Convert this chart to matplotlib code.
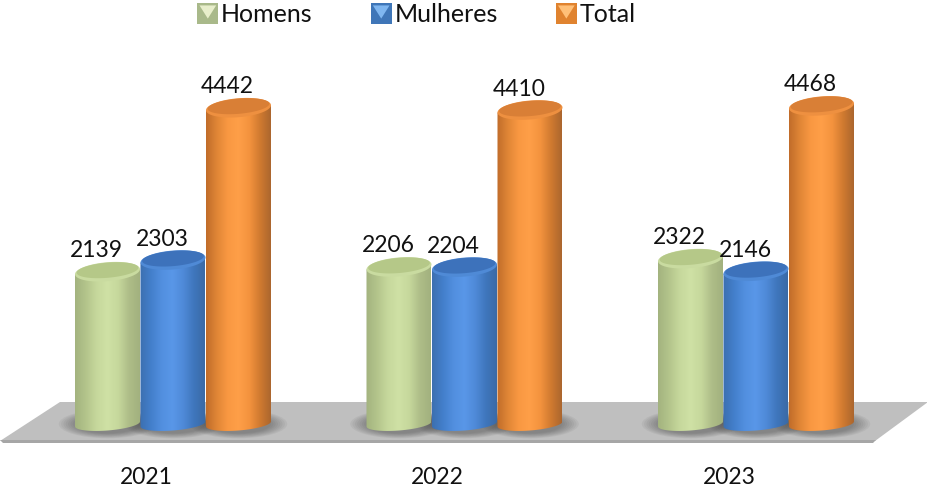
import numpy as np
import matplotlib
matplotlib.use("Agg")
import matplotlib.pyplot as plt
from matplotlib.colors import LinearSegmentedColormap
from matplotlib.patches import Ellipse, Polygon, Rectangle, PathPatch, Patch
from matplotlib.path import Path
from matplotlib.legend_handler import HandlerBase

years = ["2021", "2022", "2023"]
series_names = ["Homens", "Mulheres", "Total"]
homens = [2139, 2206, 2322]
mulheres = [2303, 2204, 2146]
total = [4442, 4410, 4468]
series_values = [homens, mulheres, total]

W, H = 928, 491
X0, DX = 173.0, 291.5      # pixel centre of first group, group spacing
BASE, K = 424.0, 0.0712    # baseline pixel row, pixels per unit
plt.rcParams["font.family"] = ["Lato", "DejaVu Sans"]

fig = plt.figure(figsize=(W / 100, H / 100), dpi=100)
ax = fig.add_axes([0, 0, 1, 1])
ax.set_xlim(-X0 / DX, (W - X0) / DX)
ax.set_ylim((BASE - H) / K, BASE / K)
ax.axis("off")

ppx = 1 / DX
ppy = 1 / K
def P(px, py):
    return ((px - X0) / DX, (BASE - py) / K)

# floor
ax.add_patch(Polygon([P(0, 441), P(60, 402), P(928, 402), P(875, 441)],
                     closed=True, fc="#bfbfbf", ec="none", zorder=1))
ax.add_patch(Polygon([P(0, 440), P(876, 440), P(873, 443), P(3, 443)],
                     closed=True, fc="#a6a6a6", ec="none", zorder=1))

stops = [
    ["#a3b37f", "#b3c48b", "#c6d89c", "#cfe1a5", "#c6d89c", "#aebd88", "#a2b17e"],
    ["#3c6fb0", "#437fcb", "#528fdf", "#5997e8", "#4f8ad8", "#3f76bc", "#3a6aa6"],
    ["#c06c2a", "#e08636", "#f99842", "#ff9f48", "#f4933e", "#d07a30", "#ab662e"],
]
caps = ["#b5c888", "#3d72bb", "#d97f36"]
rims = ["#c9dba0", "#4f8ad6", "#ee9040"]
offsets = [-65.5 / DX, 0, 65.5 / DX]
half_w = 32.5 * ppx
cap_h = 9.5 * ppy
base_h = 6.5 * ppy
shear = 2.5 * ppy
grad = np.linspace(0, 1, 256).reshape(1, -1)
tt = np.linspace(0, 2 * np.pi, 80)

def cap_poly(xc, yc, w, h):
    return np.column_stack([xc + w * np.cos(tt), yc + h * np.sin(tt) + shear * np.cos(tt)])

for s, (name, vals) in enumerate(zip(series_names, series_values)):
    cmap = LinearSegmentedColormap.from_list(name, stops[s])
    for g, v in enumerate(vals):
        xc = g + offsets[s]
        z = 3 + s + g * 0.01
        # contact shadow
        for scale in np.linspace(1.5, 1.0, 8):
            ax.add_patch(Ellipse((xc, 0), 2 * half_w * scale, 2 * (base_h + 3 * ppy) * scale,
                                 fc="#303030", ec="none", alpha=0.06, zorder=2))
        t = np.linspace(np.pi, 2 * np.pi, 40)
        bx = xc + half_w * np.cos(t)
        by = base_h * np.sin(t) + shear * np.cos(t)
        verts = list(zip(bx, by)) + [(xc + half_w, v + shear), (xc - half_w, v - shear)]
        clip = PathPatch(Path(verts + [verts[0]], closed=True), fc="none", ec="none",
                         transform=ax.transData)
        ax.add_patch(clip)
        im = ax.imshow(grad, extent=[xc - half_w, xc + half_w, -base_h - shear, v + shear],
                       cmap=cmap, aspect="auto", zorder=z, vmin=0, vmax=1)
        im.set_clip_path(clip)
        ax.add_patch(Polygon(cap_poly(xc, v, half_w, cap_h), closed=True, fc=rims[s], ec="none",
                             zorder=z + 0.004))
        ax.add_patch(Polygon(cap_poly(xc, v + 1.5 * ppy, half_w * 0.95, cap_h * 0.8), closed=True,
                             fc=caps[s], ec="none", zorder=z + 0.005))
        ax.text(xc - 11 * ppx, v + 21 * ppy, str(v), ha="center", va="center",
                fontsize=16.5, color="#111111", zorder=10)

ax.set_xlim(-X0 / DX, (W - X0) / DX)
ax.set_ylim((BASE - H) / K, BASE / K)

for g, y in enumerate(years):
    ax.text(g - 27 * ppx, (BASE - 477) * ppy, y, ha="center", va="center",
            fontsize=16.5, color="#111111")

# legend
light = ["#e8eecb", "#7fb6f0", "#ffc078"]
body = ["#a9b98a", "#3f76b8", "#e0832f"]

class Swatch(HandlerBase):
    def create_artists(self, legend, orig, xd, yd, width, height, fontsize, trans):
        side = 15
        x0 = xd * -1 + width - side
        y0 = -yd + (height - side) / 2
        sq = Rectangle((x0, y0), side, side, fc=orig.get_facecolor(), ec="none", transform=trans)
        tr = Polygon([(x0 + 1.5, y0 + side - 1.5), (x0 + side - 1.5, y0 + side - 1.5),
                      (x0 + side / 2, y0 + 4)], closed=True,
                     fc=orig.get_edgecolor(), ec="none", transform=trans)
        return [sq, tr]

handles = [Patch(fc=body[i], ec=light[i]) for i in range(3)]
leg = ax.legend(handles, series_names, handler_map={Patch: Swatch()}, ncol=3,
                loc="center left", bbox_to_anchor=(197 / W, 1 - 15 / H),
                frameon=False, fontsize=18, labelcolor="#111111",
                handlelength=0.85, handletextpad=0.12, columnspacing=2.3,
                borderpad=0, borderaxespad=0)
leg.set_zorder(20)

fig.savefig("out.png", dpi=100, facecolor="white")
